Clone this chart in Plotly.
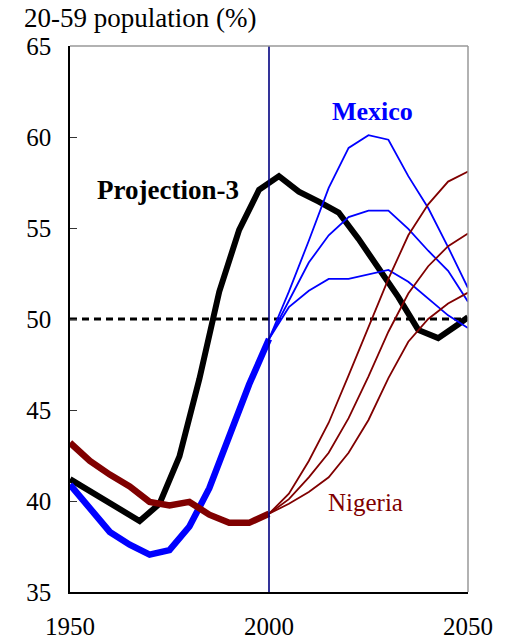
import plotly.graph_objects as go

# ---- data ----
hist_years = [1950, 1955, 1960, 1965, 1970, 1975, 1980, 1985, 1990, 1995, 2000]
mexico_hist = [40.9, 39.6, 38.3, 37.6, 37.05, 37.3, 38.6, 40.7, 43.5, 46.4, 48.9]
nigeria_hist = [43.2, 42.2, 41.45, 40.8, 39.95, 39.75, 39.95, 39.25, 38.8, 38.8, 39.3]

proj_years = [2000, 2005, 2010, 2015, 2020, 2025, 2030, 2035, 2040, 2045, 2050]
mexico_high = [48.9, 51.5, 54.3, 57.2, 59.4, 60.1, 59.85, 57.85, 56.1, 53.95, 51.7]
mexico_mid = [48.9, 51.0, 53.1, 54.6, 55.6, 55.95, 55.95, 54.95, 53.75, 52.65, 50.95]
mexico_low = [48.9, 50.65, 51.55, 52.2, 52.2, 52.45, 52.7, 52.05, 51.15, 50.2, 49.5]
nigeria_high = [39.3, 40.4, 42.2, 44.3, 46.9, 49.6, 52.2, 54.6, 56.3, 57.55, 58.1]
nigeria_mid = [39.3, 40.1, 41.3, 42.65, 44.55, 46.85, 49.3, 51.4, 52.9, 54.0, 54.7]
nigeria_low = [39.3, 39.85, 40.5, 41.3, 42.65, 44.45, 46.75, 48.75, 50.0, 50.85, 51.45]

proj3_years = [1950, 1957.5, 1962.5, 1967.5, 1972.5, 1977.5, 1982.5, 1987.5, 1992.5,
               1997.5, 2002.5, 2007.5, 2012.5, 2017.5, 2022.5, 2027.5, 2032.5,
               2037.5, 2042.5, 2047.5, 2050]
proj3 = [41.2, 40.2, 39.5, 38.9, 39.85, 42.45, 46.7, 51.5, 54.9,
         57.1, 57.85, 57.0, 56.45, 55.85, 54.4, 52.8, 51.2,
         49.4, 48.95, 49.7, 50.1]

x_ticks = [1950, 2000, 2050]
y_ticks = [35, 40, 45, 50, 55, 60, 65]

BLUE = "#0000FF"
RED = "#800000"
NAVY = "#000080"
FONT = "Liberation Serif, Times New Roman, serif"

fig = go.Figure()

# reference line at 50
fig.add_trace(go.Scatter(x=[1950, 2050], y=[50, 50], mode="lines",
                         line=dict(color="black", width=2.8, dash="7px,5px"),
                         hoverinfo="skip"))
# Projection-3
fig.add_trace(go.Scatter(x=proj3_years, y=proj3, mode="lines",
                         line=dict(color="black", width=6)))
# Mexico
fig.add_trace(go.Scatter(x=hist_years, y=mexico_hist, mode="lines",
                         line=dict(color=BLUE, width=6.5)))
for s in (mexico_high, mexico_mid, mexico_low):
    fig.add_trace(go.Scatter(x=proj_years, y=s, mode="lines",
                             line=dict(color=BLUE, width=1.8)))
# Nigeria
fig.add_trace(go.Scatter(x=hist_years, y=nigeria_hist, mode="lines",
                         line=dict(color=RED, width=6.5)))
for s in (nigeria_high, nigeria_mid, nigeria_low):
    fig.add_trace(go.Scatter(x=proj_years, y=s, mode="lines",
                             line=dict(color=RED, width=1.8)))
# vertical line at 2000
fig.add_trace(go.Scatter(x=[2000, 2000], y=[35, 65], mode="lines",
                         line=dict(color=NAVY, width=1.6)))

fig.update_layout(
    width=510, height=643,
    margin=dict(l=70, r=42, t=46, b=51),
    paper_bgcolor="white", plot_bgcolor="white",
    showlegend=False,
    font=dict(family=FONT, color="black"),
    xaxis=dict(range=[1950, 2050], tickvals=x_ticks, ticks="", showgrid=False,
               zeroline=False, showline=True, linecolor="black", linewidth=1.5,
               tickfont=dict(size=25, family=FONT, color="black"),
               ticklabelstandoff=11, automargin=False),
    yaxis=dict(range=[35, 65], tickvals=y_ticks, ticks="inside", ticklen=7,
               tickcolor="#333", showgrid=False, zeroline=False, showline=True,
               linecolor="black", linewidth=1.5,
               tickfont=dict(size=25, family=FONT, color="black"),
               ticklabelstandoff=12, automargin=False),
    shapes=[
        dict(type="line", xref="paper", yref="paper", x0=0, x1=1, y0=1, y1=1,
             line=dict(color="#999999", width=1.5)),
        dict(type="line", xref="paper", yref="paper", x0=1, x1=1, y0=0, y1=1,
             line=dict(color="#999999", width=1.5)),
    ],
    annotations=[
        dict(text="20-59 population (%)", xref="paper", yref="paper",
             x=-0.1206, y=1.051, xanchor="left", yanchor="middle",
             showarrow=False, font=dict(size=27, family=FONT, color="black")),
        dict(text="<b>Mexico</b>", x=2025.9, y=61.42, showarrow=False,
             font=dict(size=26, family=FONT, color=BLUE)),
        dict(text="<b>Projection-3</b>", x=1974.5, y=57.1, showarrow=False,
             font=dict(size=27, family=FONT, color="black")),
        dict(text="Nigeria", x=2024.3, y=39.9, showarrow=False,
             font=dict(size=25, family=FONT, color=RED)),
    ],
)

fig.write_html("out.html",
               config={"displayModeBar": False},
               post_script="document.body.style.margin='0';")
